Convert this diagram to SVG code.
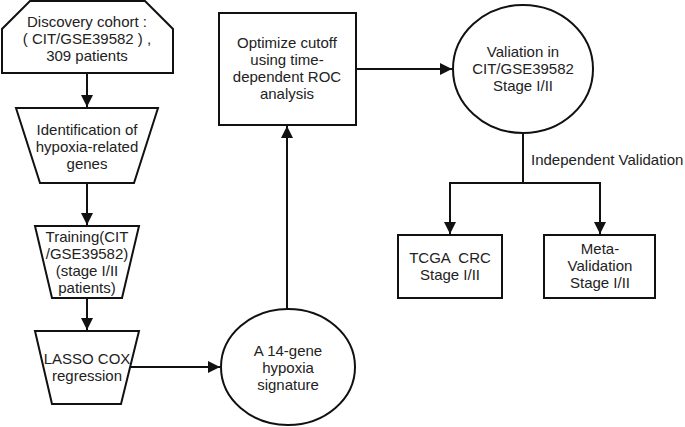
<svg xmlns="http://www.w3.org/2000/svg" width="685" height="427" viewBox="0 0 685 427">
<style>
.s{fill:#fff;stroke:#111;stroke-width:2}
.c{fill:none;stroke:#111;stroke-width:2}
text{font-family:"Liberation Sans",Arial,sans-serif;font-size:15px;fill:#222;text-anchor:middle}
</style>
<defs>
<marker id="a" viewBox="0 0 10 10" refX="10" refY="5" markerWidth="6.5" markerHeight="6" orient="auto" markerUnits="strokeWidth">
<path d="M0,0 L10,5 L0,10 z" fill="#111"/>
</marker>
</defs>
<g id="connectors">
<line class="c" x1="87" y1="73" x2="87" y2="107" marker-end="url(#a)"/>
<line class="c" x1="87" y1="183" x2="87" y2="225" marker-end="url(#a)"/>
<line class="c" x1="87" y1="298" x2="87" y2="330" marker-end="url(#a)"/>
<line class="c" x1="130" y1="367" x2="220" y2="367" marker-end="url(#a)"/>
<line class="c" x1="287" y1="309" x2="287" y2="126" marker-end="url(#a)"/>
<line class="c" x1="356" y1="69" x2="452" y2="69" marker-end="url(#a)"/>
<polyline class="c" points="523,133 523,183"/>
<polyline class="c" points="450,200 450,183 600,183 600,200"/>
<line class="c" x1="450" y1="199" x2="450" y2="234" marker-end="url(#a)"/>
<line class="c" x1="600" y1="199" x2="600" y2="234" marker-end="url(#a)"/>
<text x="531" y="165" style="text-anchor:start">Independent Validation</text>
</g>
<g id="discovery">
<polygon class="s" points="30,1 145,1 173,29 173,73 2,73 2,29"/>
<text x="87" y="27">Discovery cohort :</text>
<text x="87" y="44">( CIT/GSE39582 ) ,</text>
<text x="87" y="61">309 patients</text>
</g>
<g id="identification">
<polygon class="s" points="16,108 158,108 134,183 40,183"/>
<text x="87" y="135">Identification of</text>
<text x="87" y="152">hypoxia-related</text>
<text x="87" y="169">genes</text>
</g>
<g id="training">
<polygon class="s" points="35,226 139,226 122,298 52,298"/>
<text x="87" y="242">Training(CIT</text>
<text x="87" y="259">/GSE39582)</text>
<text x="87" y="276">(stage I/II</text>
<text x="87" y="293">patients)</text>
</g>
<g id="lasso">
<polygon class="s" points="35,331 139,331 121,404 52,404"/>
<text x="87" y="364">LASSO COX</text>
<text x="87" y="381">regression</text>
</g>
<g id="signature">
<ellipse class="s" cx="288" cy="367" rx="67" ry="58"/>
<text x="288" y="356">A 14-gene</text>
<text x="288" y="373">hypoxia</text>
<text x="288" y="390">signature</text>
</g>
<g id="optimize">
<rect class="s" x="219" y="13" width="137" height="112"/>
<text x="287" y="48">Optimize cutoff</text>
<text x="287" y="65">using time-</text>
<text x="287" y="82">dependent ROC</text>
<text x="287" y="99">analysis</text>
</g>
<g id="valiation">
<ellipse class="s" cx="523" cy="69" rx="70" ry="64"/>
<text x="523" y="57">Valiation in</text>
<text x="523" y="74">CIT/GSE39582</text>
<text x="523" y="91">Stage I/II</text>
</g>
<g id="tcga">
<rect class="s" x="398" y="235" width="104" height="63"/>
<text x="450" y="263" xml:space="preserve">TCGA  CRC</text>
<text x="450" y="280">Stage I/II</text>
</g>
<g id="meta">
<rect class="s" x="544" y="235" width="111" height="63"/>
<text x="600" y="254">Meta-</text>
<text x="600" y="271">Validation</text>
<text x="600" y="288">Stage I/II</text>
</g>
</svg>
